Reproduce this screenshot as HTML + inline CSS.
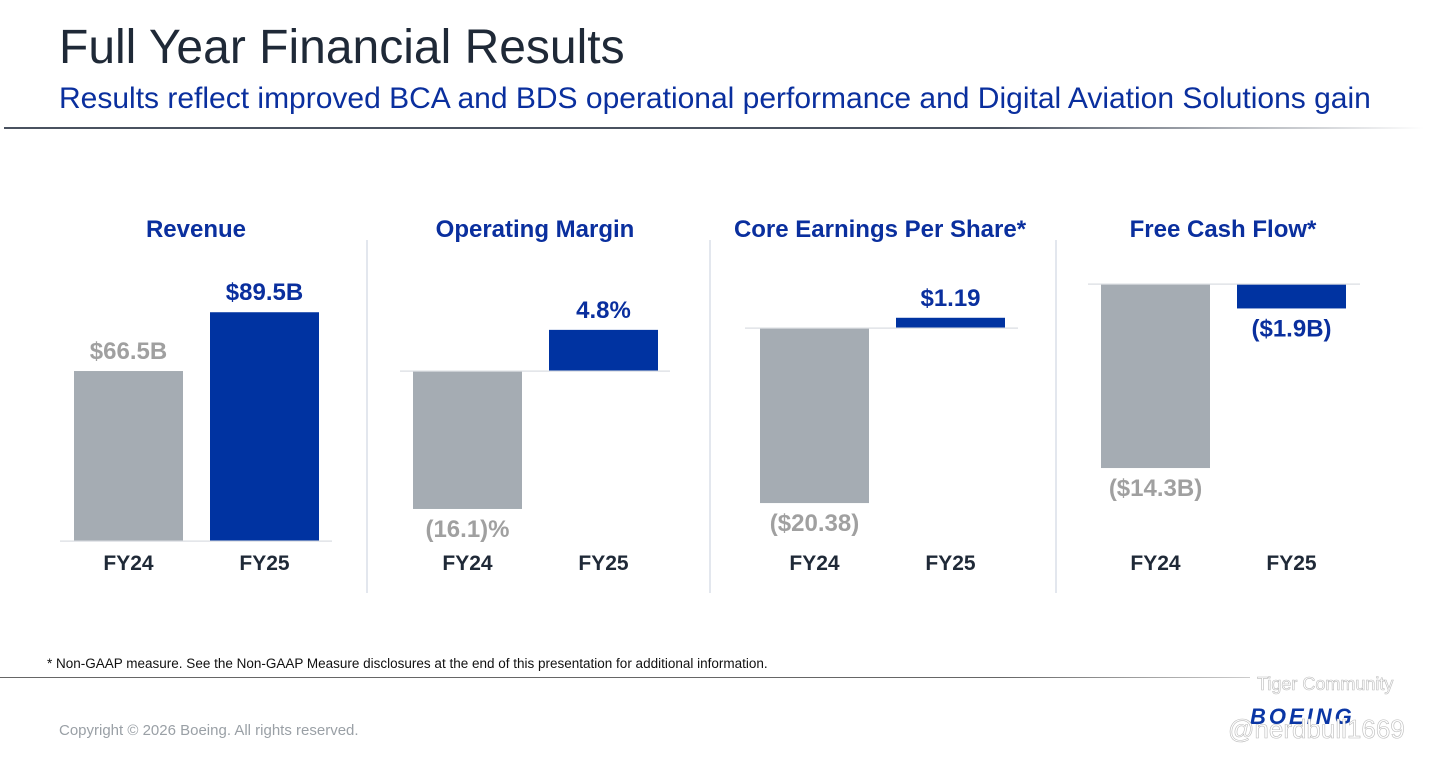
<!DOCTYPE html>
<html><head><meta charset="utf-8"><style>
body{margin:0;width:1430px;height:763px;background:#fff;position:relative;overflow:hidden;font-family:"Liberation Sans",sans-serif}
.abs{position:absolute}
</style></head><body>
<div class="abs" style="left:59px;top:20px;font-size:48px;color:#1f2937;white-space:nowrap">Full Year Financial Results</div>
<div class="abs" style="left:59px;top:82px;font-size:30px;color:#0a2f9e;white-space:nowrap">Results reflect improved BCA and BDS operational performance and Digital Aviation Solutions gain</div>
<div class="abs" style="left:4px;top:127px;width:1420px;height:2px;background:linear-gradient(to right,#4a5260 70%,#fff)"></div>
<svg class="abs" style="left:0;top:0" width="1430" height="763" id="chart"></svg>
<div class="abs" style="left:47px;top:656px;font-size:13.5px;color:#111;white-space:nowrap">* Non-GAAP measure. See the Non-GAAP Measure disclosures at the end of this presentation for additional information.</div>
<div class="abs" style="left:0;top:677px;width:1250px;height:1px;background:linear-gradient(to right,#666 80%,#ccc)"></div>
<div class="abs" style="left:59px;top:722px;font-size:15px;color:#9aa0a6;white-space:nowrap">Copyright © 2026 Boeing. All rights reserved.</div>
<div class="abs" style="left:1250px;top:704px;font-size:22px;font-weight:bold;font-style:italic;color:#0a36a5;letter-spacing:3px">BOEING</div>
<div class="abs" style="left:1257px;top:674px;font-size:18px;color:#fff;-webkit-text-stroke:0.6px #bbb;white-space:nowrap">Tiger Community</div>
<div class="abs" style="left:1228px;top:714px;font-size:26px;color:#fff;-webkit-text-stroke:0.6px #bbb;white-space:nowrap">@nerdbull1669</div>
<script>
const titles=["Revenue","Operating Margin","Core Earnings Per Share*","Free Cash Flow*"];
const categories=["FY24","FY25"];
const revenueValues=[66.5,89.5];
const marginValues=[-16.1,4.8];
const epsValues=[-20.38,1.19];
const fcfValues=[-14.3,-1.9];
const revenueLabels=["$66.5B","$89.5B"];
const marginLabels=["(16.1)%","4.8%"];
const epsLabels=["($20.38)","$1.19"];
const fcfLabels=["($14.3B)","($1.9B)"];
const NS="http://www.w3.org/2000/svg";
const svg=document.getElementById('chart');
function mk(t,a){const e=document.createElementNS(NS,t);for(const k in a)e.setAttribute(k,a[k]);svg.appendChild(e);return e;}
const panels=[
 {vals:revenueValues,labels:revenueLabels,base:541,scale:2.556,x0:74,cx:196,lineL:60,lineR:332},
 {vals:marginValues,labels:marginLabels,base:371,scale:8.57,x0:413,cx:535,lineL:400,lineR:670},
 {vals:epsValues,labels:epsLabels,base:328,scale:8.59,x0:760,cx:880,lineL:745,lineR:1018},
 {vals:fcfValues,labels:fcfLabels,base:284,scale:12.87,x0:1101,cx:1223,lineL:1088,lineR:1360}
];
[366,709,1055].forEach(x=>{
 const d=mk('rect',{x:x,y:240,width:2,height:353,fill:'#e3e7ee'});
 
 
});
const colors=['#a5acb3','#0033a1'];
const labColors=['#a0a0a0','#0a2f9e'];
panels.forEach((p,pi)=>{
 const t=mk('text',{x:p.cx,y:237,'text-anchor':'middle','font-size':24,'font-weight':'bold',fill:'#0a2f9e','font-family':'Liberation Sans'});
 t.textContent=titles[pi];
 
 
 const y=v=>p.base-v*p.scale;
 p.vals.forEach((v,i)=>{
  const x=p.x0+i*136;
  const top=Math.min(y(v),p.base), bot=Math.max(y(v),p.base);
  const r=mk('rect',{x:x,y:top,width:109,height:bot-top,fill:colors[i]});
  
  
  const ly=v>=0?top-12:bot+28;
  const l=mk('text',{x:x+54.5,y:ly,'text-anchor':'middle','font-size':24,'font-weight':'bold',fill:labColors[i],'font-family':'Liberation Sans'});
  l.textContent=p.labels[i];
  
  
  const c=mk('text',{x:x+54.5,y:570,'text-anchor':'middle','font-size':21,'font-weight':'bold',fill:'#1f2937','font-family':'Liberation Sans'});
  c.textContent=categories[i];
  
  
 });
 const b=mk('rect',{x:p.lineL,y:p.base-0.5,width:p.lineR-p.lineL,height:1.2,fill:'#d9dce1'});
 
 
});
</script>
</body></html>
